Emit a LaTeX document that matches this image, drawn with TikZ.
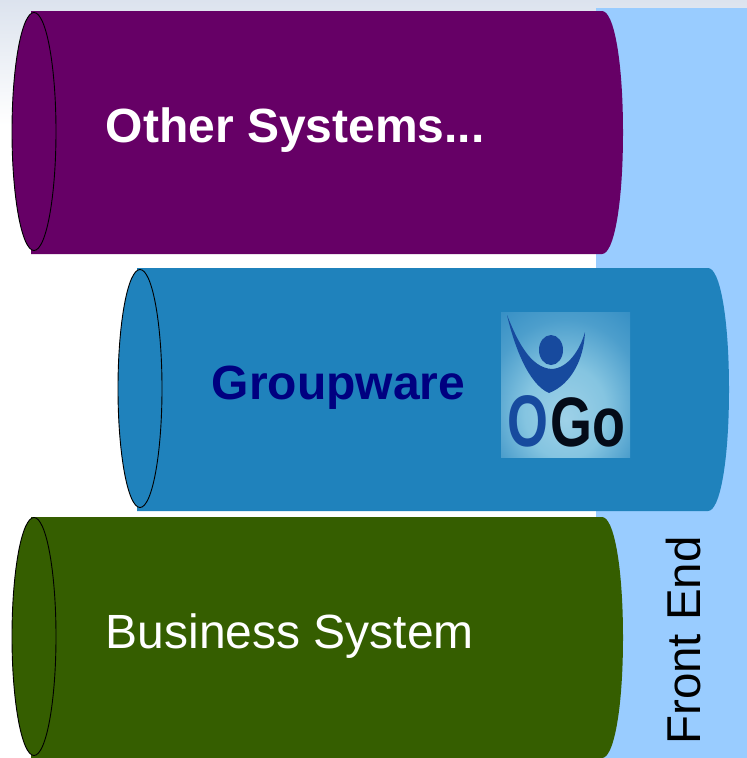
\documentclass[tikz,border=0pt]{standalone}
\usepackage{fontspec}
\setmainfont{Liberation Sans}
\definecolor{cpurple}{HTML}{660066}
\definecolor{cblue}{HTML}{1F82BC}
\definecolor{cgreen}{HTML}{355E00}
\definecolor{cfront}{HTML}{99CCFF}
\definecolor{cnavy}{HTML}{000080}
\definecolor{clogo}{HTML}{174A9E}
\pgfdeclareradialshading{logoglow}{\pgfpoint{0bp}{-12bp}}{%
  rgb(0bp)=(0.62,0.82,0.91);
  rgb(16bp)=(0.52,0.77,0.88);
  rgb(30bp)=(0.30,0.62,0.80);
  rgb(44bp)=(0.18,0.54,0.76);
  rgb(80bp)=(0.15,0.52,0.75)}
\tikzset{
  label text/.style={font=\fontsize{48}{50}\selectfont, inner sep=0pt, anchor=base west},
  cap line/.style={draw=black, line width=0.9pt},
}
% #1 colour, #2 left x of body, #3 top y, #4 bottom y of body
\newcommand{\drum}[4]{
  \fill[#1] (#2,#3) -- (#2+571,#3)
    .. controls (#2+583,#3) and (#2+592,{#3+50}) .. (#2+592,{(#3+#4)/2})
    .. controls (#2+592,{#4-50}) and (#2+583,#4) .. (#2+571,#4)
    -- (#2,#4) -- cycle;
  \draw[cap line, fill=#1] (#2+3,{(#3+#4)/2-1}) ellipse [x radius=22, y radius=119];
}
\begin{document}
\begin{tikzpicture}[x=1pt,y=-1pt]
\useasboundingbox (0,0) rectangle (747,758);
\fill[white] (0,0) rectangle (747,758);
\shade[top color={rgb,255:red,220;green,227;blue,238}, bottom color=white] (0,0) rectangle (747,125);
\fill[cfront] (596,8) rectangle (747,758);
\drum{cpurple}{31}{11}{254}
\drum{cblue}{137}{268}{511}
\drum{cgreen}{31}{517}{758}
\node[label text, text=white, font=\fontsize{48}{50}\selectfont\bfseries] (other) at (105.5,142) {Other Systems...};
\node[label text, text=cnavy, font=\fontsize{48}{50}\selectfont\bfseries] (group) at (211.5,399) {Groupware};
\node[label text, text=white] (business) at (105.5,648) {Business System};
\node[label text, text=black, font=\fontsize{47.5}{50}\selectfont, rotate=90] (front) at (700,745) {Front End};
% logo
\shade[shading=logoglow] (501,312) rectangle (630,457);
\fill[clogo] (507,315)
  .. controls (517,340) and (530,368) .. (552,369)
  .. controls (568,368) and (580,350) .. (585,332)
  .. controls (584,358) and (572,384) .. (549,393)
  .. controls (528,384) and (514,345) .. (507,315) -- cycle;
\fill[clogo] (551,350) ellipse [x radius=12, y radius=15];
\node[inner sep=0pt, anchor=base, text=clogo, font=\fontsize{73}{73}\selectfont\bfseries, xscale=0.72] (logoO) at (528,446) {O};
\node[inner sep=0pt, anchor=base west, text=black!85!clogo, font=\fontsize{70}{70}\selectfont\bfseries, xscale=0.77] (logoGo) at (550,446) {Go};
\end{tikzpicture}
\end{document}
